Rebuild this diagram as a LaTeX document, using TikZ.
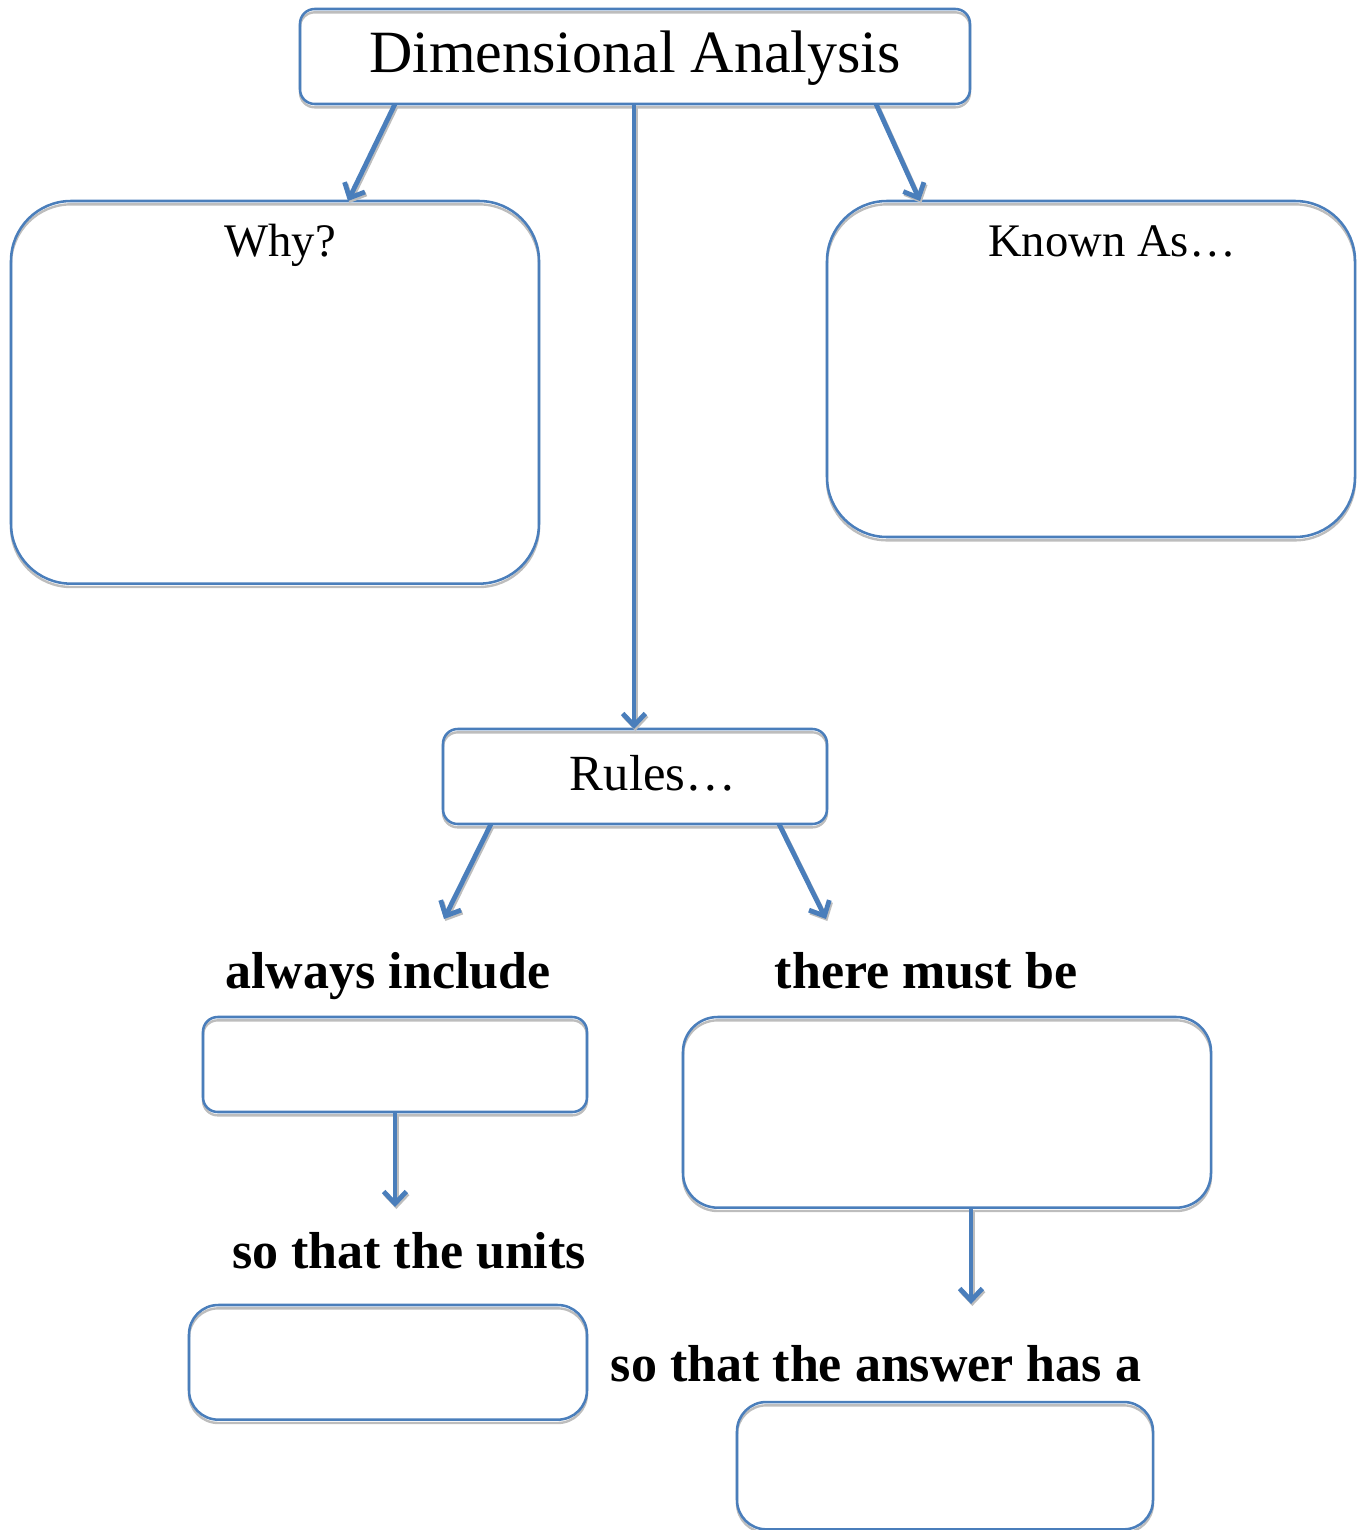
\documentclass[tikz,border=0pt]{standalone}
\usepackage{fontspec}
\setmainfont{Liberation Serif}
\usetikzlibrary{arrows.meta,calc}
\definecolor{bl}{HTML}{4A7EBB}
\definecolor{sh}{HTML}{BDBDBD}
\tikzset{
  shadowed/.style={preaction={draw=sh, line width=1.8pt, transform canvas={yshift=-2.5pt}}},
  box/.style={draw=bl, line width=1.9pt, rectangle, inner sep=0pt, outer sep=0pt, anchor=north west, shadowed},
  conn/.style={draw=bl, line width=3.6pt, -{Straight Barb[length=9pt,width=17pt]},
    preaction={draw=sh, line width=3.6pt, -{Straight Barb[length=9pt,width=17pt]}, transform canvas={xshift=1pt,yshift=-1.5pt}}},
  titletxt/.style={anchor=base, inner sep=0pt, font=\fontsize{45}{54}\selectfont},
  headtxt/.style={anchor=base, inner sep=0pt, font=\fontsize{35}{42}\selectfont},
  boldtxt/.style={anchor=base, inner sep=0pt, font=\fontsize{39}{46}\selectfont\bfseries},
}
\begin{document}
\begin{tikzpicture}[x=0.75pt,y=-0.75pt]
\useasboundingbox (0,0) rectangle (1363,1530);
% boxes
\node[box, rounded corners=11pt, minimum width=502.5pt, minimum height=71.25pt] (top) at (300,9) {};
\node[box, rounded corners=45pt, minimum width=396pt, minimum height=287pt] (why) at (11,201) {};
\node[box, rounded corners=45pt, minimum width=396pt, minimum height=252pt] (known) at (827,201) {};
\node[box, rounded corners=11pt, minimum width=288pt, minimum height=71.25pt] (rules) at (443,729) {};
\node[box, rounded corners=11pt, minimum width=288pt, minimum height=71.25pt] (incl) at (203,1017) {};
\node[box, rounded corners=26pt, minimum width=396pt, minimum height=143pt] (must) at (683,1017) {};
\node[box, rounded corners=22pt, minimum width=298.5pt, minimum height=86pt] (units) at (189,1305) {};
\node[box, rounded corners=22pt, minimum width=312pt, minimum height=95.5pt] (answer) at (737,1402) {};
% texts
\node[titletxt] (ttop) at (635,73) {Dimensional Analysis};
\node[headtxt] (twhy) at (280,257) {Why?};
\node[headtxt] (tknown) at (1112,257) {Known As…};
\node[headtxt, font=\fontsize{38}{44}\selectfont] (trules) at (653,790) {Rules…};
\node[boldtxt] (tincl) at (388,988) {always include};
\node[boldtxt] (tmust) at (926,988) {there must be};
\node[boldtxt] (tunits) at (409,1268) {so that the units};
\node[boldtxt] (tanswer) at (876,1381) {so that the answer has a};
% arrow ends
\coordinate (e1) at (444,919);
\coordinate (e2) at (826,919);
\coordinate (e3) at (395,1207);
\coordinate (e4) at (971,1304);
% connectors
\draw[conn] ($(top.south west)+(95,0)$) -- ($(why.north west)+(337,0)$);
\draw[conn] ($(top.south west)+(334,0)$) -- ($(rules.north west)+(191,0)$);
\draw[conn] ($(top.south west)+(576,0)$) -- ($(known.north west)+(93,0)$);
\draw[conn] ($(rules.south west)+(48,0)$) -- (e1);
\draw[conn] ($(rules.south west)+(336,0)$) -- (e2);
\draw[conn] ($(incl.south west)+(192,0)$) -- (e3);
\draw[conn] ($(must.south west)+(288,0)$) -- (e4);
\end{tikzpicture}
\end{document}
